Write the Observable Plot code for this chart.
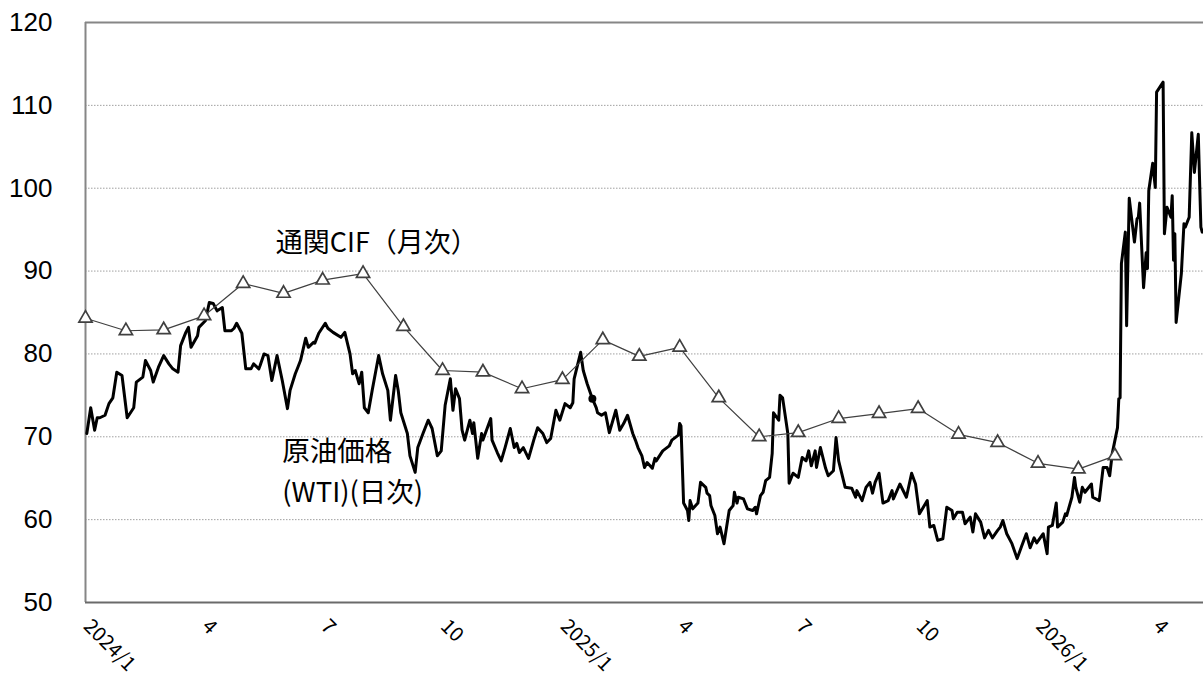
<!DOCTYPE html>
<html><head><meta charset="utf-8">
<script src="https://cdn.jsdelivr.net/npm/d3@7"></script>
<script src="https://cdn.jsdelivr.net/npm/@observablehq/plot@0.6"></script>
<style>html,body{margin:0;padding:0;background:#fff;}#chart svg{display:block;}</style>
</head><body><div id="chart"></div>
<script>
// 通関CIF（月次）
const cifMonths = ["2024-01","2024-02","2024-03","2024-04","2024-05","2024-06","2024-07","2024-08","2024-09","2024-10","2024-11","2024-12",
  "2025-01","2025-02","2025-03","2025-04","2025-05","2025-06","2025-07","2025-08","2025-09","2025-10","2025-11","2025-12",
  "2026-01","2026-02","2026-03"];
const cifValues = [84.3,82.8,82.9,84.6,88.5,87.3,88.9,89.7,83.3,78.0,77.8,75.8,
  76.9,81.7,79.7,80.8,74.7,70.0,70.5,72.2,72.8,73.4,70.3,69.3,
  66.8,66.1,67.7];

// 原油価格（WTI）（日次）
const wti2024 = [["01-02",70.4],["01-05",73.5],["01-08",70.8],["01-10",72.3],["01-12",72.3],["01-16",72.6],["01-19",74.0],["01-22",74.7],["01-25",77.8],["01-29",77.4],
["02-02",72.3],["02-07",73.5],["02-09",76.6],["02-14",77.2],["02-16",79.2],["02-20",78.0],["02-22",76.6],["02-26",78.4],
["03-01",79.8],["03-05",78.8],["03-08",78.2],["03-12",77.8],["03-14",81.0],["03-18",82.6],["03-20",83.2],["03-22",80.8],["03-27",82.2],["03-28",83.2],
["04-02",84.0],["04-05",86.2],["04-08",86.1],["04-11",85.2],["04-15",85.6],["04-17",82.8],["04-22",82.8],["04-24",83.1],["04-26",83.7],["04-30",82.5],
["05-03",78.2],["05-07",78.2],["05-09",78.8],["05-13",78.2],["05-14",78.6],["05-17",80.0],["05-20",79.8],["05-23",76.8],["05-27",79.8],["05-31",76.8],
["06-04",73.4],["06-06",75.6],["06-10",77.6],["06-12",78.4],["06-14",79.2],["06-18",81.9],["06-20",80.8],["06-24",81.4],["06-25",81.3],["06-28",82.5],
["07-03",83.7],["07-05",83.1],["07-09",82.6],["07-15",82.0],["07-18",82.6],["07-22",80.0],["07-24",77.6],["07-26",78.0],["07-29",76.4],["07-31",77.8],
["08-02",73.5],["08-05",72.9],["08-08",75.6],["08-13",79.8],["08-16",77.6],["08-20",75.6],["08-22",72.0],["08-26",77.4],["08-28",75.6],["08-30",72.9],
["09-04",70.4],["09-06",67.7],["09-10",65.7],["09-12",68.7],["09-16",70.4],["09-20",72.0],["09-23",71.0],["09-27",67.7],["09-30",68.3],
["10-03",73.8],["10-07",77.0],["10-09",73.2],["10-11",75.8],["10-14",74.6],["10-16",70.8],["10-18",69.6],["10-22",72.0],["10-24",70.4],["10-25",71.7],["10-28",67.4],["10-31",70.4],
["11-01",69.6],["11-07",72.2],["11-08",69.6],["11-12",68.1],["11-15",67.1],["11-18",68.7],["11-22",71.0],["11-25",68.7],["11-27",69.2],["11-29",68.1],
["12-02",68.7],["12-06",67.4],["12-10",69.6],["12-13",71.1],["12-17",70.4],["12-20",69.3],["12-23",69.8],["12-27",73.2],["12-30",72.0]];

const wti2025 = [["01-03",74.0],["01-07",73.5],["01-09",74.1],["01-10",77.0],["01-15",80.2],["01-17",78.0],["01-20",76.4],["01-24",74.6],["01-27",73.5],["01-28",72.9],["01-31",72.6],
["02-03",72.9],["02-06",70.5],["02-11",73.2],["02-14",70.8],["02-17",71.6],["02-20",72.6],["02-24",70.4],["02-26",69.6],["02-28",68.7],
["03-03",67.7],["03-05",66.3],["03-07",66.9],["03-11",66.2],["03-13",67.4],["03-14",67.1],["03-19",68.3],["03-24",68.9],["03-26",69.6],["03-31",70.2],
["04-01",71.6],["04-02",71.3],["04-04",62.0],["04-07",61.1],["04-08",59.9],["04-09",62.3],["04-11",61.3],["04-15",62.0],["04-17",64.5],["04-21",63.9],["04-22",63.2],["04-24",62.9],["04-25",61.7],["04-28",60.5],["04-30",58.3],
["05-02",59.1],["05-05",57.1],["05-07",59.1],["05-09",61.1],["05-12",61.7],["05-13",63.3],["05-15",62.0],["05-16",62.7],["05-20",62.5],["05-23",61.3],["05-27",61.1],["05-29",61.5],["05-30",60.7],
["06-02",62.9],["06-04",63.3],["06-06",64.7],["06-09",65.1],["06-11",68.0],["06-12",72.9],["06-16",72.0],["06-17",75.0],["06-19",74.7],["06-23",70.4],["06-24",64.4],["06-27",65.6],
["07-01",65.1],["07-04",67.5],["07-07",67.1],["07-09",68.3],["07-11",66.5],["07-14",68.3],["07-15",66.3],["07-18",68.7],["07-22",66.2],["07-24",65.3],["07-28",65.9],["07-30",69.9],
["08-01",67.1],["08-06",63.9],["08-11",63.8],["08-14",62.7],["08-15",63.5],["08-19",62.3],["08-22",63.9],["08-25",64.5],["08-27",63.2],["08-29",64.5],
["09-01",65.6],["09-04",62.0],["09-08",62.3],["09-11",63.5],["09-12",62.5],["09-17",64.3],["09-22",62.7],["09-26",65.6],["09-29",64.3],
["10-02",60.7],["10-08",62.3],["10-10",59.1],["10-13",59.3],["10-16",57.5],["10-20",57.7],["10-23",61.5],["10-27",61.1],["10-28",60.1],["10-31",60.9],
["11-04",60.9],["11-06",59.5],["11-10",60.3],["11-12",58.5],["11-14",60.7],["11-18",59.7],["11-21",57.8],["11-24",58.7],["11-27",57.8],
["12-01",58.7],["12-03",59.1],["12-05",59.9],["12-08",58.3],["12-12",57.1],["12-16",55.3],["12-19",56.6],["12-23",58.3],["12-26",56.6],["12-29",57.8],["12-31",57.2]];

const wti2026 = [["01-05",58.3],["01-06",57.5],["01-08",55.9],["01-09",59.1],["01-12",59.3],["01-15",62.0],["01-16",59.1],["01-20",59.7],["01-22",60.7],["01-23",60.5],["01-27",62.7],["01-29",65.1],["01-30",63.9],
["02-02",62.1],["02-04",63.9],["02-06",63.3],["02-11",64.3],["02-12",62.7],["02-17",62.3],["02-20",66.3],["02-23",66.3],["02-25",65.3],["02-27",68.0],
["03-03",71.1],["03-04",74.6],["03-05",74.7],["03-06",90.9],["03-09",94.7],["03-10",83.4],["03-12",98.8],["03-16",93.5],["03-18",96.3],["03-19",96.5],["03-20",98.2],["03-23",88.0],["03-25",92.2],["03-26",90.3],["03-27",99.7],["03-30",103.0],
["04-01",100.1],["04-02",111.6],["04-07",112.8],["04-08",94.5],["04-10",97.7],["04-13",96.5],["04-14",99.1],["04-15",91.3],["04-16",94.5],["04-17",83.8],["04-21",89.7],["04-23",95.7],["04-24",95.3],["04-27",96.5],["04-29",106.7],
["05-01",101.9],["05-04",106.5],["05-06",95.3],["05-07",94.7]];

const wtiMarker = [["2025-01-24",74.6]];

const yTicks = [50,60,70,80,90,100,110,120];
const gridTicks = [60,70,80,90,100,110];
const xTickDates = ["2024-01-01","2024-04-01","2024-07-01","2024-10-01","2025-01-01","2025-04-01","2025-07-01","2025-10-01","2026-01-01","2026-04-01"];
const xTickLabels = ["2024/1","4","7","10","2025/1","4","7","10","2026/1","4"];

const cifLabel = {text: "通関CIF（月次）", date: "2024-05-26", value: 93.3};
const wtiLabels = [
  {text: "原油価格", date: "2024-05-31", value: 68.1},
  {text: "(WTI)(日次)", date: "2024-05-31", value: 63.2}
];

// build tables
const parse = s => new Date(s + "T00:00:00Z");
const cif = cifMonths.map((m, i) => ({date: parse(m + "-01"), value: cifValues[i]}));
const wti = [
  ...wti2024.map(([d, v]) => ({date: parse("2024-" + d), value: v})),
  ...wti2025.map(([d, v]) => ({date: parse("2025-" + d), value: v})),
  ...wti2026.map(([d, v]) => ({date: parse("2026-" + d), value: v}))
];
const marker = wtiMarker.map(([d, v]) => ({date: parse(d), value: v}));
const xTicks = xTickDates.map((d, i) => ({date: parse(d), label: xTickLabels[i]}));
const toNote = d => ({...d, date: parse(d.date)});
const xStart = parse("2024-01-01"), xEnd = parse("2026-05-08");
const jp = "'Noto Sans CJK JP', sans-serif";

const chart = Plot.plot({
  width: 1203, height: 675,
  marginLeft: 85, marginRight: 0, marginTop: 22, marginBottom: 73,
  style: {background: "white", fontFamily: "'Liberation Sans', Arial, sans-serif", overflow: "visible"},
  x: {type: "utc", domain: [xStart, xEnd], axis: null},
  y: {domain: [50, 120], axis: null},
  marks: [
    Plot.ruleY(gridTicks, {stroke: "#a0a0a0", strokeWidth: 1, strokeDasharray: "1.5,1.5"}),
    Plot.ruleY([120], {stroke: "#868686", strokeWidth: 2}),
    Plot.ruleX([xStart], {stroke: "#868686", strokeWidth: 2}),
    Plot.ruleY([50], {stroke: "#6a6a6a", strokeWidth: 2.2}),
    Plot.axisY(yTicks, {tickSize: 0, tickPadding: 33, fontSize: 26, label: null, fill: "#000",
      fontFamily: "'Liberation Sans', Arial, sans-serif"}),
    Plot.line(wti, {x: "date", y: "value", stroke: "#000", strokeWidth: 3, strokeLinejoin: "round"}),
    Plot.dot(marker, {x: "date", y: "value", r: 4, fill: "#000"}),
    Plot.line(cif, {x: "date", y: "value", stroke: "#404040", strokeWidth: 1.2}),
    Plot.dot(cif, {x: "date", y: "value", symbol: "triangle", r: 4.9, stroke: "#404040", strokeWidth: 1.7, fill: "white"}),
    Plot.text(xTicks, {x: "date", text: "label", frameAnchor: "bottom", rotate: 45, textAnchor: "start",
      lineAnchor: "bottom", dx: -3, dy: 25, fontSize: 20, fontFamily: jp, fill: "#000"}),
    Plot.text([toNote(cifLabel)], {x: "date", y: "value", text: "text", textAnchor: "start", lineAnchor: "middle",
      fontSize: 27, fontFamily: jp, fill: "#000"}),
    Plot.text(wtiLabels.map(toNote), {x: "date", y: "value", text: "text", textAnchor: "start", lineAnchor: "middle",
      fontSize: 27.5, fontFamily: jp, fill: "#000"})
  ]
});
document.getElementById("chart").append(chart);
</script>
</body></html>
